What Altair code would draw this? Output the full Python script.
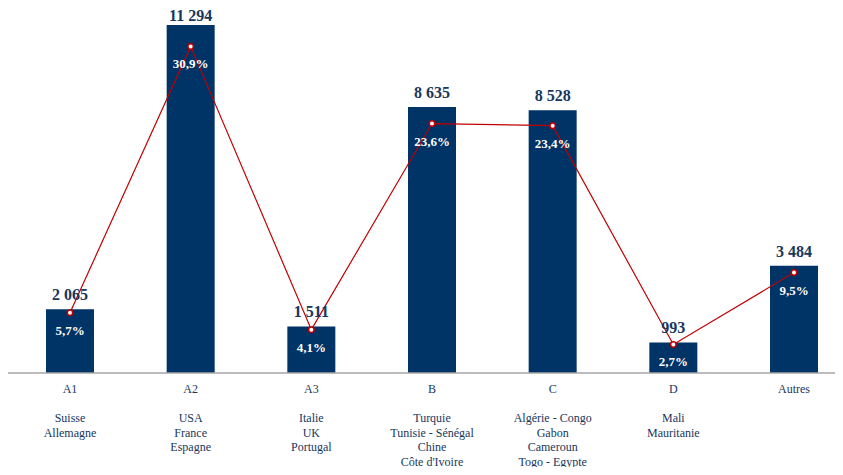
import altair as alt
import pandas as pd

categories = ["A1", "A2", "A3", "B", "C", "D", "Autres"]
countries = [
    "Suisse\nAllemagne",
    "USA\nFrance\nEspagne",
    "Italie\nUK\nPortugal",
    "Turquie\nTunisie - Sénégal\nChine\nCôte d'Ivoire",
    "Algérie - Congo\nGabon\nCameroun\nTogo - Egypte",
    "Mali\nMauritanie",
    "",
]
values = [2065, 11294, 1511, 8635, 8528, 993, 3484]
shares = [5.7, 30.9, 4.1, 23.6, 23.4, 2.7, 9.5]

df = pd.DataFrame({
    "idx": list(range(len(categories))),
    "cat": categories,
    "countries": countries,
    "value": values,
    "share": shares,
})
df["value_lbl"] = [f"{v:,}".replace(",", " ") for v in values]
df["share_lbl"] = [f"{s:.1f}%".replace(".", ",") for s in shares]

W, H = 827, 459
BASE = 365  # pixel of zero line inside plot
span = (len(categories) - 1) * W / (786 - 62)
x0 = -62 * span / W
x_scale = alt.Scale(domain=[x0, x0 + span], padding=0, nice=False, zero=False)

k_val = 348 / 11294   # px per unit
k_pct = 10.57         # px per percent point
val_scale = alt.Scale(domain=[-(H - BASE) / k_val, BASE / k_val], nice=False, zero=False, padding=0)
pct_scale = alt.Scale(domain=[-(H - BASE) / k_pct, BASE / k_pct], nice=False, zero=False, padding=0)

NAVY = "#003366"
TXT = "#17375e"
RED = "#c00000"
SERIF = "Liberation Serif"

X = alt.X("idx:Q", scale=x_scale, axis=None)
base = alt.Chart(df)

bars = base.mark_bar(size=48, color=NAVY).encode(
    x=X, y=alt.Y("value:Q", scale=val_scale, axis=None)
)

baseline = alt.Chart(pd.DataFrame({"z": [0]})).mark_rule(color="#a6a6a6", strokeWidth=1.5).encode(
    x=alt.value(0), x2=alt.value(W), y=alt.Y("z:Q", scale=val_scale, axis=None)
)

line = base.mark_line(color=RED, strokeWidth=1.2).encode(
    x=X, y=alt.Y("share:Q", scale=pct_scale, axis=None)
)
points = base.mark_point(filled=True, fill="white", stroke=RED, strokeWidth=1.5,
                         size=30, opacity=1, shape="circle").encode(
    x=X, y=alt.Y("share:Q", scale=pct_scale, axis=None)
)

val_text = base.transform_calculate(
    ylbl=f"min(datum.value + {9 / k_val}, {(BASE - 13) / k_val})"
).mark_text(font=SERIF, fontSize=16, fontWeight="bold", color=TXT,
            baseline="alphabetic").encode(
    x=X, y=alt.Y("ylbl:Q", scale=val_scale, axis=None), text="value_lbl:N"
)

pct_text = base.mark_text(font=SERIF, fontSize=13, fontWeight="bold", color="white",
                          baseline="alphabetic", dy=22).encode(
    x=X, y=alt.Y("share:Q", scale=pct_scale, axis=None), text="share_lbl:N"
)

cat_text = base.mark_text(font=SERIF, fontSize=12, color=TXT, baseline="middle").encode(
    x=X, y=alt.value(381), text="cat:N"
)

country_text = base.mark_text(font=SERIF, fontSize=12, color=TXT, baseline="alphabetic",
                              lineBreak="\n", lineHeight=14.5).encode(
    x=X, y=alt.value(414), text="countries:N"
)

chart = alt.layer(
    bars, baseline, line, points, val_text, pct_text, cat_text, country_text
).resolve_scale(y="independent").properties(
    width=W, height=H, padding=0, autosize=alt.AutoSizeParams(type="none")
).configure_view(stroke=None)

chart.save("out.html", embed_options={"renderer": "svg", "actions": False})
